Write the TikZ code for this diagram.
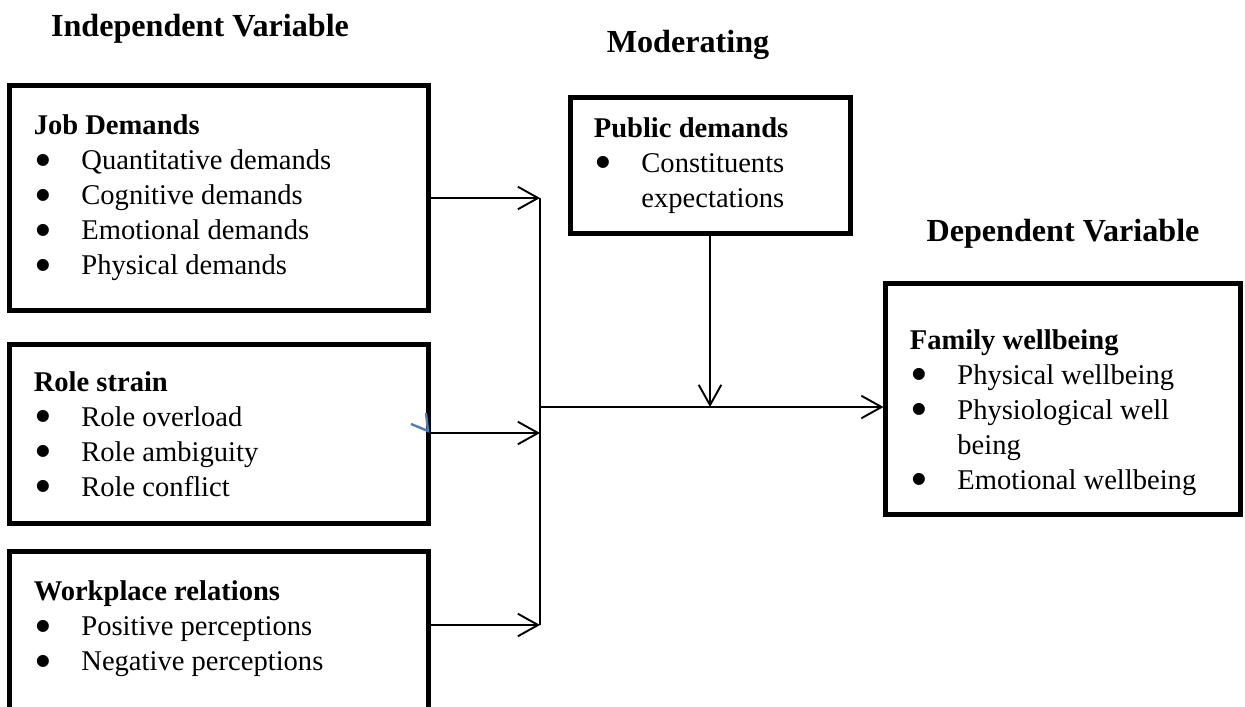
\documentclass[tikz,border=0pt]{standalone}
\usepackage{fontspec}
\setmainfont{Liberation Serif}
\newfontfamily\dotfont{DejaVu Sans}
\usepackage{tikz}
\usetikzlibrary{arrows.meta, positioning, calc}
\definecolor{boxink}{HTML}{000000}
\definecolor{markblue}{HTML}{4A7EBB}
\newcommand{\bpt}[1]{\makebox[20pt][l]{\hspace{1pt}\raisebox{2.3pt}{\dotfont\fontsize{6.6}{8}\selectfont ●}}#1}
\newcommand{\bcont}[1]{\hspace*{20pt}#1}
\tikzset{
  vbox/.style={draw=boxink, line width=2.1pt, align=flush left, inner xsep=10pt,
    font=\fontsize{12}{14.7}\selectfont, text=boxink},
  openbox/.style={align=flush left, inner xsep=10pt, font=\fontsize{12}{14.7}\selectfont, text=boxink},
  sidebar/.style={draw=boxink, line width=2.1pt},
  head/.style={anchor=base, font=\fontsize{13.5}{16}\selectfont\bfseries, text=boxink},
  flow/.style={-{Straight Barb[length=8.5pt, width=9.5pt]}, draw=boxink, line width=0.8pt},
  link/.style={draw=boxink, line width=0.7pt}
}

\begin{document}
\begin{tikzpicture}[x=0.42pt, y=-0.42pt]
\useasboundingbox (0,0) rectangle (1245,706);
\node[head] (indep) at (200,37) {Independent Variable};
\node[head] (moder) at (688,53) {Moderating};
\node[head] (depen) at (1063,241) {Dependent Variable};

\node[vbox, minimum width=175.6pt, minimum height=94.9pt, text width=155.6pt] (job) at (219,198)
  {\textbf{Job Demands}\\ \bpt{Quantitative demands}\\ \bpt{Cognitive demands}\\ \bpt{Emotional demands}\\ \bpt{Physical demands}};
\node[vbox, minimum width=175.6pt, minimum height=74.8pt, text width=155.6pt] (role) at (219,434)
  {\textbf{Role strain}\\ \bpt{Role overload}\\ \bpt{Role ambiguity}\\ \bpt{Role conflict}};
\node[openbox, minimum width=175.6pt, minimum height=64.7pt, text width=155.6pt] (work) at (219,629)
  {\textbf{Workplace relations}\\ \bpt{Positive perceptions}\\ \bpt{Negative perceptions}};
\draw[sidebar] (work.south west) -- (work.north west) -- (work.north east) -- (work.south east);
\node[vbox, minimum width=117.6pt, minimum height=56.7pt, text width=97.6pt] (pub) at (710,165.5)
  {\textbf{Public demands}\\ \bpt{Constituents}\\ \bcont{expectations}};
\node[vbox, minimum width=148.7pt, minimum height=97.4pt, text width=128.7pt] (fam) at (1063,399)
  {\rule{0pt}{19.5pt}\textbf{Family wellbeing}\\ \bpt{Physical wellbeing}\\ \bpt{Physiological well}\\ \bcont{being}\\ \bpt{Emotional wellbeing}};

\coordinate (jtop) at (540,198);
\coordinate (jmid) at (540,433);
\coordinate (jbot) at (540,625);
\coordinate (jout) at (540,407);
\draw[flow] (job.east |- jtop)--(jtop); \draw[flow] (role.east |- jmid)--(jmid); \draw[flow] (work.east |- jbot)--(jbot);
\draw[link] (jtop)--(jbot);
\draw[flow] (jout)--(jout -| fam.west); \draw[flow] (pub.south)--(pub.south |- jout);
\draw[markblue, line width=1pt] (411,424)--(428,431)--(426,413);
\end{tikzpicture}
\end{document}
